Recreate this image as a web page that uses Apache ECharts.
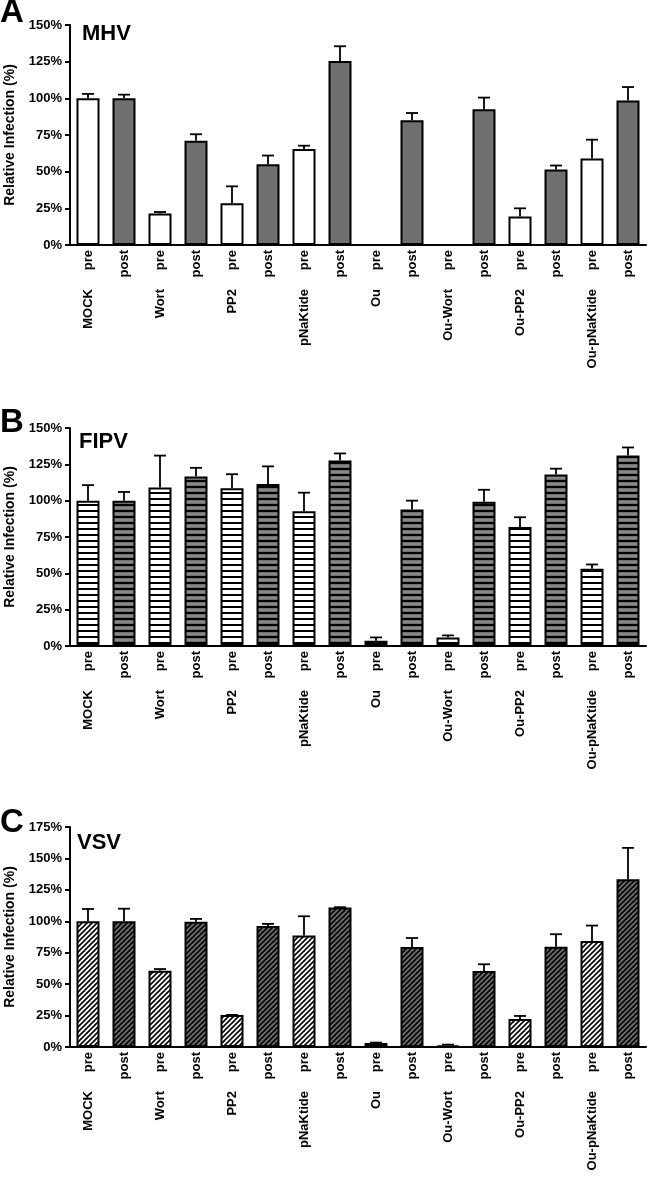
<!DOCTYPE html>
<html>
<head>
<meta charset="utf-8">
<script src="https://cdn.jsdelivr.net/npm/echarts@6/dist/echarts.min.js"></script>
<style>
html,body{margin:0;padding:0;background:#fff;}
#chart{width:650px;height:1180px;}
</style>
</head>
<body>
<div id="chart"></div>
<script>
// ---------- DATA ----------
const groups = ['MOCK', 'Wort', 'PP2', 'pNaKtide', 'Ou', 'Ou-Wort', 'Ou-PP2', 'Ou-pNaKtide'];
const conditions = ['pre', 'post'];
const yTicksAB = [0, 25, 50, 75, 100, 125, 150];
const yTicksC = [0, 25, 50, 75, 100, 125, 150, 175];

const mhvMean = [100, 100, 21.5, 71, 28.5, 55, 65.5, 125.5, 0, 85, 0, 92.5, 19.5, 51.5, 59, 98.5];
const mhvErr  = [3, 2.5, 1, 4.5, 11.5, 6, 2.2, 10, 0, 5, 0, 8, 5.5, 2.7, 12.8, 9.2];

const fipvMean = [100, 100, 109, 116.6, 108.6, 111.4, 92.7, 127.7, 3.6, 94, 5.9, 99.3, 81.8, 118, 53.2, 131.1];
const fipvErr  = [10.7, 6, 22, 6, 9.6, 12.2, 12.8, 4.8, 2.3, 6, 1.4, 8.2, 6.8, 4, 2.9, 5.5];

const vsvMean = [100, 100, 60.7, 99.7, 25.5, 96.3, 88.6, 110.9, 3.2, 79.6, 1.3, 60.5, 22.3, 79.8, 84.3, 133.4];
const vsvErr  = [9.8, 10, 1.3, 2.2, 0, 1.6, 15.4, 0.3, 0.3, 7.1, 0.6, 5.3, 2.4, 9.9, 12.3, 25];

const panelLetters = ['A', 'B', 'C'];
const panelTitles = ['MHV', 'FIPV', 'VSV'];
const yAxisName = 'Relative Infection (%)';

// ---------- BUILD ----------
const categories = [];
groups.forEach(g => conditions.forEach(c => categories.push(g + ' ' + c)));

function makeCanvas(w, h, draw) {
  const c = document.createElement('canvas');
  c.width = w; c.height = h;
  draw(c.getContext('2d'));
  return c;
}
const GRAY = '#6f6f6f';
const stripeWhite = makeCanvas(6, 6, ctx => {
  ctx.fillStyle = '#fff'; ctx.fillRect(0, 0, 6, 6);
  ctx.fillStyle = '#000'; ctx.fillRect(0, 0, 6, 2);
});
const stripeGray = makeCanvas(6, 6, ctx => {
  ctx.fillStyle = GRAY; ctx.fillRect(0, 0, 6, 6);
  ctx.fillStyle = '#888'; ctx.fillRect(0, 3, 6, 2);
  ctx.fillStyle = '#000'; ctx.fillRect(0, 0, 6, 2);
});
function diag(bg) {
  return makeCanvas(5, 5, ctx => {
    ctx.fillStyle = bg; ctx.fillRect(0, 0, 5, 5);
    ctx.strokeStyle = '#000'; ctx.lineWidth = 1.6;
    for (let o = -5; o <= 5; o += 5) {
      ctx.beginPath(); ctx.moveTo(o - 1, 6); ctx.lineTo(o + 6, -1); ctx.stroke();
    }
  });
}
const diagWhite = diag('#fff');
const diagGray = diag(GRAY);

const fills = [
  ['#ffffff', GRAY],
  [{ image: stripeWhite, repeat: 'repeat' }, { image: stripeGray, repeat: 'repeat' }],
  [{ image: diagWhite, repeat: 'repeat' }, { image: diagGray, repeat: 'repeat' }]
];

const panels = [
  { mean: mhvMean, err: mhvErr, top: 25, height: 220, max: 150, ticks: yTicksAB },
  { mean: fipvMean, err: fipvErr, top: 428, height: 218, max: 150, ticks: yTicksAB },
  { mean: vsvMean, err: vsvErr, top: 827, height: 220, max: 175, ticks: yTicksC }
];

const FONT = 'Liberation Sans, Arial, Helvetica, sans-serif';
const grid = [], xAxis = [], yAxis = [], series = [], title = [];

panels.forEach((p, i) => {
  grid.push({ left: 70, right: 4, top: p.top, height: p.height, containLabel: false, outerBoundsMode: 'none' });
  xAxis.push({
    type: 'category', gridIndex: i, data: categories, position: 'bottom',
    axisLine: { lineStyle: { color: '#000', width: 2 } },
    axisTick: { show: false },
    axisLabel: {
      interval: 0, rotate: 90, margin: 5, color: '#000',
      fontFamily: FONT, fontWeight: 'bold', fontSize: 13,
      formatter: (v, idx) => conditions[idx % 2]
    }
  });
  xAxis.push({
    type: 'category', gridIndex: i, data: categories, position: 'bottom',
    axisLine: { show: false }, axisTick: { show: false },
    axisLabel: {
      interval: 0, rotate: 90, margin: 44, color: '#000',
      fontFamily: FONT, fontWeight: 'bold', fontSize: 13,
      formatter: (v, idx) => idx % 2 === 0 ? groups[idx / 2] : ''
    }
  });
  yAxis.push({
    type: 'value', gridIndex: i, min: 0, max: p.max, interval: 25,
    name: yAxisName, nameLocation: 'middle', nameGap: 53, nameMoveOverlap: false,
    nameTextStyle: { color: '#000', fontFamily: FONT, fontWeight: 'bold', fontSize: 14 },
    axisLine: { show: true, lineStyle: { color: '#000', width: 2 } },
    axisTick: { show: true, length: 5, lineStyle: { color: '#000', width: 2 } },
    splitLine: { show: false },
    axisLabel: {
      margin: 8, color: '#000', fontFamily: FONT, fontWeight: 'bold', fontSize: 13,
      formatter: v => p.ticks.includes(v) ? v + '%' : ''
    }
  });
  series.push({
    type: 'bar', xAxisIndex: 2 * i, yAxisIndex: i, barWidth: 23,
    data: p.mean.map((m, k) => ({
      value: m,
      itemStyle: { color: fills[i][k % 2], borderColor: '#000', borderWidth: 2 }
    })),
    animation: false
  });
  series.push({
    type: 'custom', xAxisIndex: 2 * i, yAxisIndex: i, z: 5,
    data: p.mean.map((m, k) => [k, m, m + p.err[k]]),
    renderItem: (params, api) => {
      const x = api.value(0);
      const a = api.coord([x, api.value(1)]);
      const b = api.coord([x, api.value(2)]);
      const st = { stroke: '#000', lineWidth: 1.8 };
      return {
        type: 'group', children: [
          { type: 'line', shape: { x1: a[0], y1: a[1], x2: b[0], y2: b[1] }, style: st },
          { type: 'line', shape: { x1: b[0] - 6, y1: b[1], x2: b[0] + 6, y2: b[1] }, style: st }
        ]
      };
    },
    animation: false
  });
  title.push({
    text: panelLetters[i], left: 0, top: [-4, 406, 806][i], padding: 0,
    textStyle: { fontFamily: FONT, fontWeight: 'bold', fontSize: 33, color: '#000' }
  });
  title.push({
    text: panelTitles[i], left: [82, 79, 77][i], top: [23, 431, 832][i], padding: 0,
    textStyle: { fontFamily: FONT, fontWeight: 'bold', fontSize: 22, color: '#000' }
  });
});

const chart = echarts.init(document.getElementById('chart'), null, { renderer: 'canvas' });
chart.setOption({ animation: false, backgroundColor: '#fff', title, grid, xAxis, yAxis, series });
</script>
</body>
</html>
